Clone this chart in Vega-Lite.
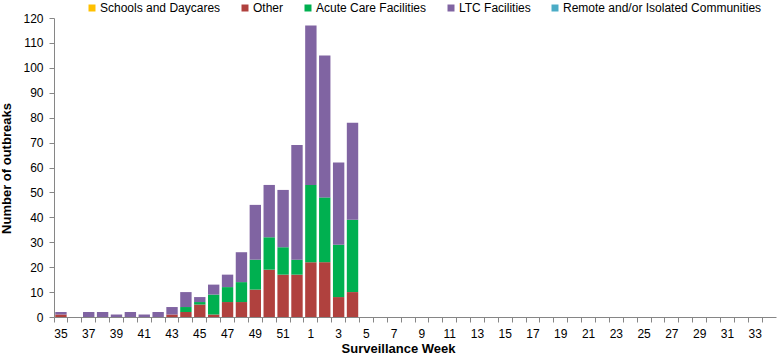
{
  "$schema": "https://vega.github.io/schema/vega-lite/v6.json",
  "autosize": "none",
  "width": 722,
  "height": 299,
  "padding": {"left": 54, "top": 18, "right": 2, "bottom": 45},
  "background": "white",
  "config": {"view": {"stroke": null}, "font": "Liberation Sans"},
  "data": {"values": [
    {"week": 35, "type": "Other", "n": 1}, {"week": 35, "type": "LTC Facilities", "n": 1},
    {"week": 36, "type": "Other", "n": 0},
    {"week": 37, "type": "LTC Facilities", "n": 2},
    {"week": 38, "type": "LTC Facilities", "n": 2},
    {"week": 39, "type": "LTC Facilities", "n": 1},
    {"week": 40, "type": "LTC Facilities", "n": 2},
    {"week": 41, "type": "LTC Facilities", "n": 1},
    {"week": 42, "type": "LTC Facilities", "n": 2},
    {"week": 43, "type": "Other", "n": 1}, {"week": 43, "type": "LTC Facilities", "n": 3},
    {"week": 44, "type": "Other", "n": 2}, {"week": 44, "type": "Acute Care Facilities", "n": 2}, {"week": 44, "type": "LTC Facilities", "n": 6},
    {"week": 45, "type": "Other", "n": 5}, {"week": 45, "type": "Acute Care Facilities", "n": 1}, {"week": 45, "type": "LTC Facilities", "n": 2},
    {"week": 46, "type": "Other", "n": 1}, {"week": 46, "type": "Acute Care Facilities", "n": 8}, {"week": 46, "type": "LTC Facilities", "n": 4},
    {"week": 47, "type": "Other", "n": 6}, {"week": 47, "type": "Acute Care Facilities", "n": 6}, {"week": 47, "type": "LTC Facilities", "n": 5},
    {"week": 48, "type": "Other", "n": 6}, {"week": 48, "type": "Acute Care Facilities", "n": 8}, {"week": 48, "type": "LTC Facilities", "n": 12},
    {"week": 49, "type": "Other", "n": 11}, {"week": 49, "type": "Acute Care Facilities", "n": 12}, {"week": 49, "type": "LTC Facilities", "n": 22},
    {"week": 50, "type": "Other", "n": 19}, {"week": 50, "type": "Acute Care Facilities", "n": 13}, {"week": 50, "type": "LTC Facilities", "n": 21},
    {"week": 51, "type": "Other", "n": 17}, {"week": 51, "type": "Acute Care Facilities", "n": 11}, {"week": 51, "type": "LTC Facilities", "n": 23},
    {"week": 52, "type": "Other", "n": 17}, {"week": 52, "type": "Acute Care Facilities", "n": 6}, {"week": 52, "type": "LTC Facilities", "n": 46},
    {"week": 1, "type": "Other", "n": 22}, {"week": 1, "type": "Acute Care Facilities", "n": 31}, {"week": 1, "type": "LTC Facilities", "n": 64},
    {"week": 2, "type": "Other", "n": 22}, {"week": 2, "type": "Acute Care Facilities", "n": 26}, {"week": 2, "type": "LTC Facilities", "n": 57},
    {"week": 3, "type": "Other", "n": 8}, {"week": 3, "type": "Acute Care Facilities", "n": 21}, {"week": 3, "type": "LTC Facilities", "n": 33},
    {"week": 4, "type": "Other", "n": 10}, {"week": 4, "type": "Acute Care Facilities", "n": 29}, {"week": 4, "type": "LTC Facilities", "n": 39},
    {"week": 5, "type": "Schools and Daycares", "n": 0},
    {"week": 5, "type": "Remote and/or Isolated Communities", "n": 0}
  ]},
  "transform": [
    {"calculate": "indexof(['Schools and Daycares','Other','Acute Care Facilities','LTC Facilities','Remote and/or Isolated Communities'], datum.type)", "as": "order"}
  ],
  "mark": {"type": "bar", "width": {"band": 0.82}},
  "encoding": {
    "x": {
      "field": "week", "type": "ordinal",
      "scale": {"domain": [35,36,37,38,39,40,41,42,43,44,45,46,47,48,49,50,51,52,1,2,3,4,5,6,7,8,9,10,11,12,13,14,15,16,17,18,19,20,21,22,23,24,25,26,27,28,29,30,31,32,33,34], "paddingInner": 0, "paddingOuter": 0},
      "axis": {
        "title": "Surveillance Week", "titleFontSize": 13, "titleFontWeight": "bold", "titleColor": "#000", "titlePadding": 3,
        "titleX": 344,
        "bandPosition": 0, "labelAngle": 0, "labelOverlap": false,
        "labelExpr": "datum.value % 2 == 1 ? datum.label : ''",
        "labelFontSize": 12, "labelColor": "#000", "labelPadding": 6,
        "tickColor": "#868686", "tickSize": 5, "domainColor": "#868686", "grid": false
      }
    },
    "y": {
      "field": "n", "type": "quantitative", "aggregate": "sum", "stack": "zero",
      "scale": {"domain": [0, 120], "nice": false},
      "axis": {
        "title": "Number of outbreaks", "titleFontSize": 13, "titleFontWeight": "bold", "titleColor": "#000",
        "titleX": -41, "titleY": 150,
        "values": [0,10,20,30,40,50,60,70,80,90,100,110,120],
        "labelFontSize": 12, "labelColor": "#000", "labelPadding": 6,
        "tickColor": "#868686", "tickSize": 5, "domainColor": "#868686", "grid": false
      }
    },
    "color": {
      "field": "type", "type": "nominal",
      "scale": {
        "domain": ["Schools and Daycares", "Other", "Acute Care Facilities", "LTC Facilities", "Remote and/or Isolated Communities"],
        "range": ["#FFC000", "#B0413E", "#00B050", "#8064A2", "#4BACC6"]
      },
      "legend": {
        "title": null, "orient": "none", "direction": "horizontal", "legendX": 32, "legendY": -16,
        "symbolType": "square", "symbolSize": 49, "symbolStrokeWidth": 0, "labelFontSize": 12, "labelColor": "#000",
        "labelLimit": 400, "columnPadding": 18, "labelOffset": 2, "symbolOffset": 0
      }
    },
    "order": {"field": "order", "type": "quantitative"}
  }
}
